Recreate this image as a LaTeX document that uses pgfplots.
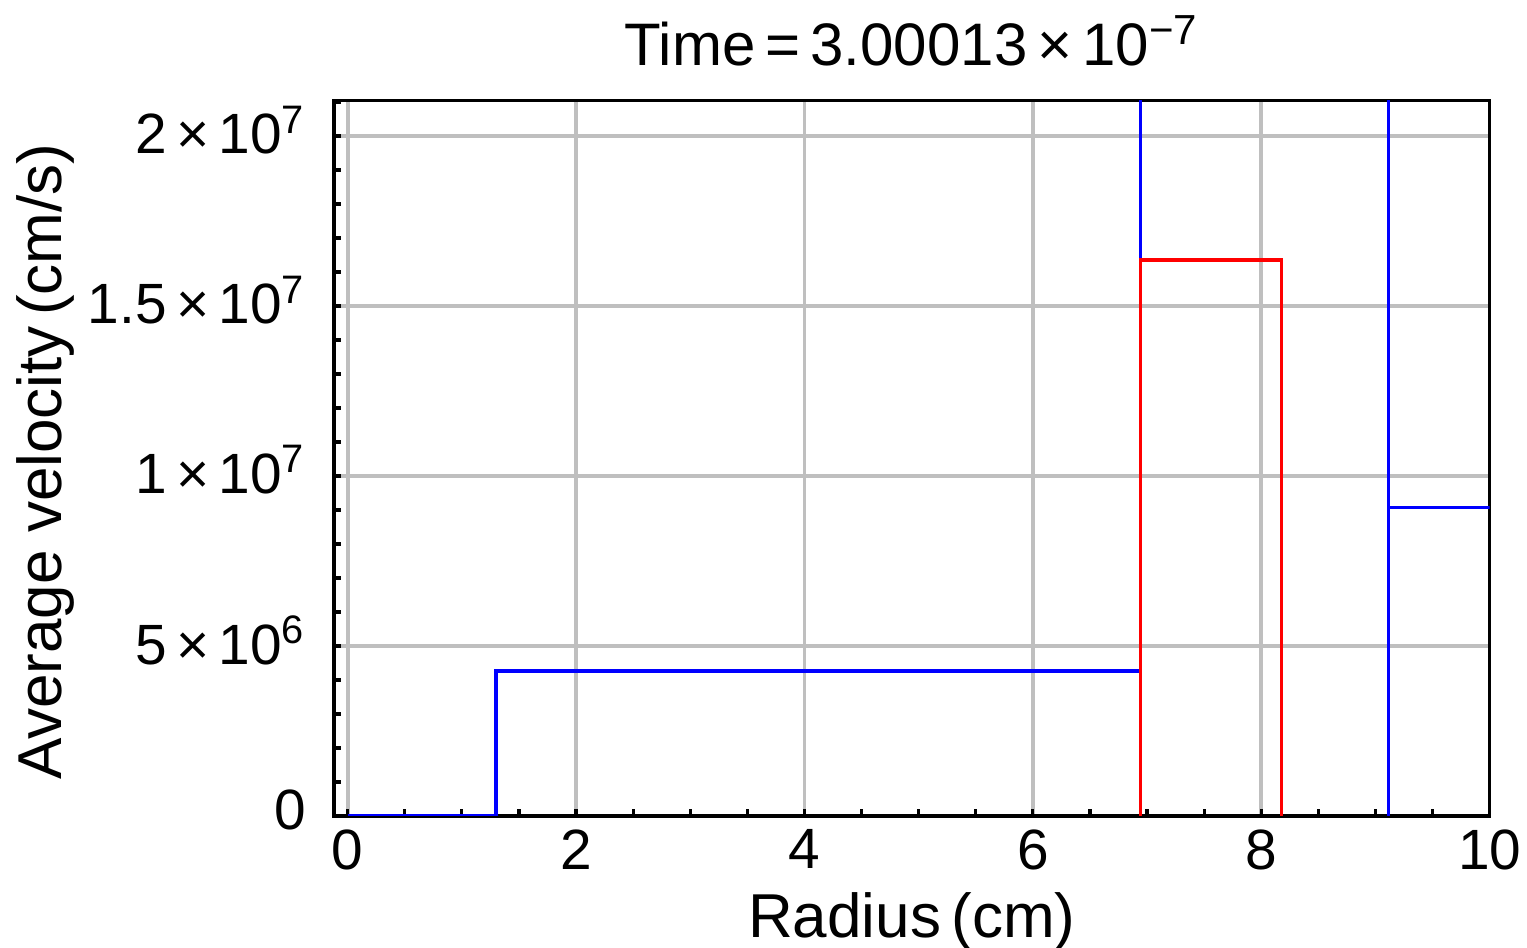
\documentclass[border=0pt]{standalone}
\usepackage{fontspec}
\setmainfont{Liberation Sans}
\usepackage{pgfplots}
\pgfplotsset{compat=1.18}
\begin{document}
\begin{tikzpicture}
\begin{axis}[
  name=ax,
  scale only axis,
  width=288.9pt, height=178.9pt,
  xmin=-0.12, xmax=10,
  ymin=0, ymax=2.105e7,
  axis line style={line width=0.85pt},
  tick align=inside,
  xtick pos=bottom, ytick pos=left,
  xtick={0,2,4,6,8,10},
  minor xtick={0.5,1,...,9.5},
  ytick={0,5e6,1e7,1.5e7,2e7},
  minor ytick={1e6,2e6,3e6,4e6,6e6,7e6,8e6,9e6,1.1e7,1.2e7,1.3e7,1.4e7,1.6e7,1.7e7,1.8e7,1.9e7,2.1e7},
  yticklabels={0,5\,×\,10\textsuperscript{6},1\,×\,10\textsuperscript{7},1.5\,×\,10\textsuperscript{7},2\,×\,10\textsuperscript{7}},
  xticklabels={0,2,4,6,8,10},
  scaled y ticks=false,
  major tick length=1.7pt, minor tick length=1.7pt,
  every tick/.style={black, line width=0.8pt},
  grid=major,
  major grid style={color=black!25, line width=0.9pt},
  tick label style={font=\fontsize{14.2}{16}\selectfont},
  yticklabel style={anchor=east, inner sep=0pt, xshift=-6.8pt, yshift=1.5pt},
  xticklabel style={anchor=north, inner sep=0pt, yshift=-3.2pt},
  label style={font=\fontsize{15.5}{17}\selectfont},
  xlabel={Radius\,(cm)},
  ylabel={Average velocity\,(cm/s)},
  xlabel style={at={(axis description cs:0.5,0)}, anchor=base, yshift=-30.5pt, inner sep=0pt},
  ylabel style={at={(axis description cs:-0.25,0.495)}, anchor=center, inner sep=0pt},
  title={Time\,=\,3.00013\,×\,10\textsuperscript{−7}},
  title style={font=\fontsize{15}{17}\selectfont, at={(axis description cs:0.5,1)}, anchor=base, yshift=2.75pt, inner sep=0pt},
  clip=true,
]
\addplot[blue, line width=0.85pt] coordinates {
  (0,0) (1.30,0) (1.30,4.26e6) (6.944,4.26e6) (6.944,2.6e7) (9.115,2.6e7) (9.115,0) (9.115,9.07e6) (10,9.07e6)
};
\addplot[red, line width=0.85pt] coordinates {
  (6.944,0) (6.944,1.635e7) (8.18,1.635e7) (8.18,0)
};
\end{axis}
\pgfresetboundingbox
\path ([shift={(-83.5pt,-33pt)}]ax.south west) rectangle ([shift={(9.35pt,25.1pt)}]ax.north east);
\end{tikzpicture}
\end{document}
